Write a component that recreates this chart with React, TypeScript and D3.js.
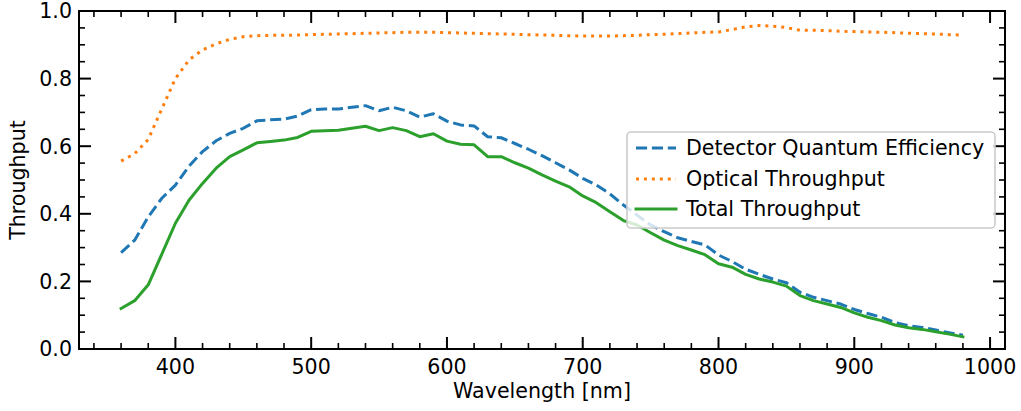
import React from "react";
import * as d3 from "d3";

const wavelengths: number[] = d3.range(360, 981, 10);

const detectorQE: number[] = [
  0.285, 0.322, 0.391, 0.446, 0.485, 0.541, 0.584, 0.616, 0.638, 0.653,
  0.675, 0.678, 0.680, 0.689, 0.708, 0.710, 0.710, 0.715, 0.720, 0.705,
  0.715, 0.705, 0.686, 0.696, 0.674, 0.663, 0.660, 0.628, 0.625, 0.608,
  0.591, 0.572, 0.551, 0.530, 0.505, 0.485, 0.459, 0.426, 0.396, 0.367,
  0.347, 0.329, 0.318, 0.308, 0.278, 0.259, 0.236, 0.221, 0.207, 0.196,
  0.168, 0.153, 0.143, 0.133, 0.117, 0.105, 0.094, 0.078, 0.069, 0.064,
  0.056, 0.048, 0.041,
];

const opticalThroughput: number[] = [
  0.556, 0.578, 0.620, 0.710, 0.800, 0.855, 0.885, 0.903, 0.916, 0.924,
  0.927, 0.928, 0.928, 0.929, 0.930, 0.931, 0.932, 0.933, 0.934, 0.935,
  0.936, 0.937, 0.937, 0.937, 0.936, 0.935, 0.934, 0.933, 0.932, 0.931,
  0.930, 0.929, 0.928, 0.927, 0.926, 0.926, 0.926, 0.927, 0.928, 0.930,
  0.931, 0.933, 0.935, 0.937, 0.938, 0.945, 0.953, 0.957, 0.955, 0.951,
  0.943, 0.943, 0.942, 0.940, 0.939, 0.938, 0.937, 0.936, 0.934, 0.933,
  0.932, 0.930, 0.929,
];

const totalThroughput: number[] = [
  0.120, 0.143, 0.190, 0.281, 0.372, 0.440, 0.490, 0.535, 0.569, 0.589,
  0.610, 0.614, 0.618, 0.626, 0.644, 0.646, 0.647, 0.653, 0.659, 0.646,
  0.655, 0.646, 0.628, 0.637, 0.615, 0.606, 0.604, 0.569, 0.569, 0.551,
  0.535, 0.515, 0.497, 0.480, 0.453, 0.433, 0.406, 0.380, 0.367, 0.344,
  0.322, 0.306, 0.293, 0.279, 0.252, 0.242, 0.221, 0.207, 0.198, 0.186,
  0.158, 0.143, 0.133, 0.123, 0.107, 0.094, 0.084, 0.071, 0.063, 0.058,
  0.051, 0.044, 0.036,
];

const seriesNames: string[] = [
  "Detector Quantum Efficiency",
  "Optical Throughput",
  "Total Throughput",
];

const xMajorTicks: number[] = [400, 500, 600, 700, 800, 900, 1000];
const xMinorTicks: number[] = d3.range(340, 1001, 20).filter((v) => v % 100 !== 0);
const yMajorTicks: number[] = [0, 0.2, 0.4, 0.6, 0.8, 1.0];
const yMinorTicks: number[] = d3.range(0, 1.001, 0.05).filter((v) => Math.abs(v * 5 - Math.round(v * 5)) > 1e-6);

const W = 1021;
const H = 411;
const left = 79;
const right = 1005;
const top = 11;
const bottom = 349;

const FONT = "DejaVu Sans, sans-serif";
const FS = 20.6;

export default function App() {
  const x = d3.scaleLinear().domain([329, 1011]).range([left, right]);
  const y = d3.scaleLinear().domain([0, 1]).range([bottom, top]);

  const mk = (vals: number[]) =>
    d3
      .line<number>()
      .x((_, i) => x(wavelengths[i]))
      .y((d) => y(d))(vals) || "";

  const series = [
    { name: seriesNames[0], vals: detectorQE, color: "#1f77b4", dash: "11.1,4.8", cap: "butt" },
    { name: seriesNames[1], vals: opticalThroughput, color: "#ff7f0e", dash: "3,4.95", cap: "butt" },
    { name: seriesNames[2], vals: totalThroughput, color: "#2ca02c", dash: "none", cap: "square" },
  ];

  const MAJ = 12;
  const MIN = 6;

  const legX = 627;
  const legY = 132;
  const legW = 368;
  const legH = 96;
  const rowY = [148, 179, 209];

  return (
    <svg
      width={W}
      height={H}
      style={{ position: "absolute", left: 0, top: 0, background: "#fff" }}
      fontFamily={FONT}
    >
      <rect x={0} y={0} width={W} height={H} fill="#fff" />
      {series.map((s) => (
        <path
          key={s.name}
          d={mk(s.vals)}
          fill="none"
          stroke={s.color}
          strokeWidth={3}
          strokeDasharray={s.dash}
          strokeLinecap={s.cap as any}
          strokeLinejoin="round"
        />
      ))}

      {/* ticks */}
      <g stroke="#000">
        {xMajorTicks.map((t) => (
          <g key={"xm" + t}>
            <line x1={x(t)} x2={x(t)} y1={bottom} y2={bottom - MAJ} strokeWidth={2} />
            <line x1={x(t)} x2={x(t)} y1={top} y2={top + MAJ} strokeWidth={2} />
          </g>
        ))}
        {xMinorTicks.map((t) => (
          <g key={"xn" + t}>
            <line x1={x(t)} x2={x(t)} y1={bottom} y2={bottom - MIN} strokeWidth={1.6} />
            <line x1={x(t)} x2={x(t)} y1={top} y2={top + MIN} strokeWidth={1.6} />
          </g>
        ))}
        {yMajorTicks.map((t) => (
          <g key={"ym" + t}>
            <line x1={left} x2={left + MAJ} y1={y(t)} y2={y(t)} strokeWidth={2} />
            <line x1={right} x2={right - MAJ} y1={y(t)} y2={y(t)} strokeWidth={2} />
          </g>
        ))}
        {yMinorTicks.map((t) => (
          <g key={"yn" + t}>
            <line x1={left} x2={left + MIN} y1={y(t)} y2={y(t)} strokeWidth={1.6} />
            <line x1={right} x2={right - MIN} y1={y(t)} y2={y(t)} strokeWidth={1.6} />
          </g>
        ))}
      </g>

      {/* spines */}
      <rect
        x={left}
        y={top}
        width={right - left}
        height={bottom - top}
        fill="none"
        stroke="#000"
        strokeWidth={2}
        strokeLinejoin="miter"
      />

      {/* tick labels */}
      {xMajorTicks.map((t) => (
        <text key={"xl" + t} x={x(t)} y={374} textAnchor="middle" fontSize={FS} fill="#000">
          {String(t)}
        </text>
      ))}
      {yMajorTicks.map((t) => (
        <text
          key={"yl" + t}
          x={72}
          y={y(t)}
          dy="0.36em"
          textAnchor="end"
          fontSize={FS}
          fill="#000"
        >
          {t.toFixed(1)}
        </text>
      ))}

      <text x={(left + right) / 2} y={398} textAnchor="middle" fontSize={FS} fill="#000">
        Wavelength [nm]
      </text>
      <text
        transform={`translate(25,${(top + bottom) / 2}) rotate(-90)`}
        textAnchor="middle"
        fontSize={FS}
        fill="#000"
      >
        Throughput
      </text>

      {/* legend */}
      <rect
        x={legX}
        y={legY}
        width={legW}
        height={legH}
        rx={4}
        ry={4}
        fill="#fff"
        fillOpacity={0.8}
        stroke="#cccccc"
        strokeWidth={1.6}
      />
      {series.map((s, i) => (
        <g key={"lg" + i}>
          <line
            x1={636}
            x2={676}
            y1={rowY[i]}
            y2={rowY[i]}
            stroke={s.color}
            strokeWidth={3}
            strokeDasharray={s.dash}
            strokeLinecap={s.cap as any}
          />
          <text x={686} y={rowY[i]} dy="0.36em" fontSize={FS} fill="#000">
            {s.name}
          </text>
        </g>
      ))}
    </svg>
  );
}
